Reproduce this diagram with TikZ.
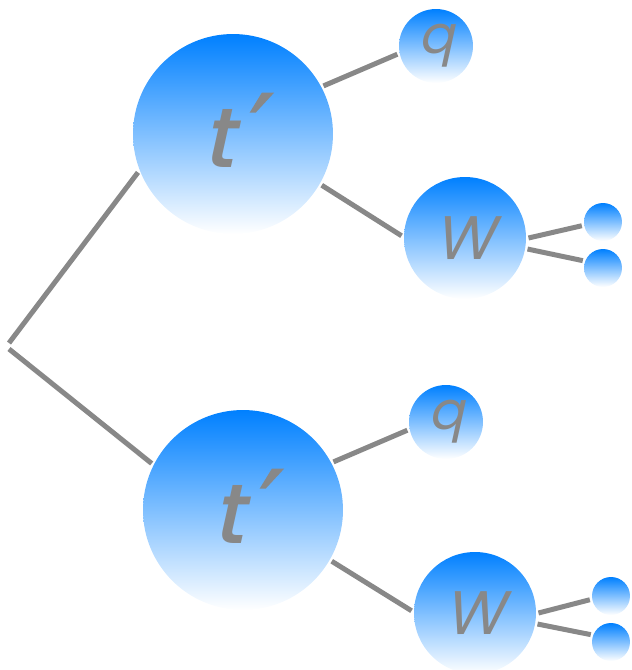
\documentclass[tikz,border=0pt]{standalone}
\usepackage{fontspec}
\newfontfamily\partfont{Poppins}[FakeSlant=0.22]
\newfontfamily\heavyfont{Poppins}[FakeSlant=0.22, UprightFont=* Medium]
\newfontfamily\primefont{DejaVu Sans}[FakeSlant=0.15, FakeBold=1.5]
\usetikzlibrary{positioning, calc}
\definecolor{partblue}{RGB}{0,128,255}
\definecolor{leggray}{RGB}{136,136,136}
\newcommand{\tprime}{\raisebox{4pt}{t\kern4pt{\primefont\fontsize{58}{58}\selectfont ′}}}

\begin{document}
\begin{tikzpicture}[x=0.02cm, y=-0.02cm,
  blob/.style={circle, inner sep=0pt, outer sep=0.05cm, shading=axis, top color=partblue, bottom color=white, text=leggray},
  heavy/.style={blob, minimum size=4cm, font=\heavyfont\fontsize{48}{48}\selectfont},
  boson/.style={blob, minimum size=2.44cm, font=\partfont\fontsize{35}{35}\selectfont},
  quark/.style={blob, minimum size=1.48cm, font=\partfont\fontsize{30}{30}\selectfont},
  prod/.style={blob, minimum size=0.76cm},
  leg/.style={draw=leggray, line width=0.1cm}]
\useasboundingbox (0,0) rectangle (632,670);
% upper decay chain
\node[heavy] (T1) at (233,134) {\tprime};
\node[quark] (Q1) at (436,46) {q};
\node[boson] (W1) at (465,238) {W};
\node[prod] (F1a) at (603,222) {};
\node[prod] (F1b) at (603,268) {};
% lower decay chain
\node[heavy] (T2) at (243,510) {\tprime};
\node[quark] (Q2) at (446,422) {q};
\node[boson] (W2) at (475,613) {W};
\node[prod] (F2a) at (611,596) {};
\node[prod] (F2b) at (611,642) {};
\coordinate (Vtop) at (9,343);
\coordinate (Vbot) at (9,349);
\draw[leg] (Vtop) -- (T1.202);
\draw[leg] (Vbot) -- (T2.153);
\draw[leg] (T1.28) -- (Q1.192);
\draw[leg] (T1.330) -- (W1.178);
\draw[leg] (W1.0) -- (F1a.190);
\draw[leg] (W1.350) -- (F1b.160);
\draw[leg] (T2.28) -- (Q2.192);
\draw[leg] (T2.330) -- (W2.178);
\draw[leg] (W2.0) -- (F2a.190);
\draw[leg] (W2.350) -- (F2b.160);
\end{tikzpicture}
\end{document}
